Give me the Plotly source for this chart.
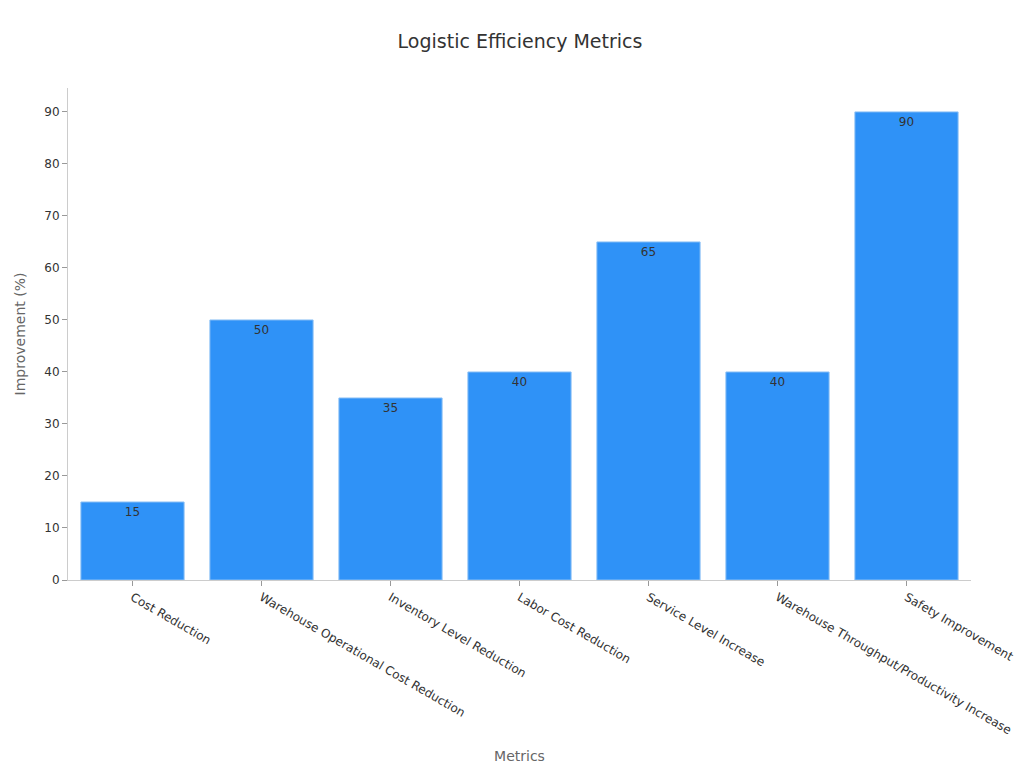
import plotly.graph_objects as go

categories = ["Cost Reduction", "Warehouse Operational Cost Reduction", "Inventory Level Reduction",
              "Labor Cost Reduction", "Service Level Increase",
              "Warehouse Throughput/Productivity Increase", "Safety Improvement"]
values = [15, 50, 35, 40, 65, 40, 90]

fig = go.Figure(go.Bar(
    x=categories, y=values, text=values, textposition="inside", insidetextanchor="end",
    textfont=dict(color="#333333", size=12),
    marker=dict(color="#2f92f7", line=dict(color="#8cc0f5", width=1)),
    width=0.8,
))
fig.update_layout(
    width=1024, height=768,
    title=dict(text="Logistic Efficiency Metrics", x=0.5, y=0.957, yanchor="middle",
               font=dict(size=19, color="#333333")),
    font=dict(family="DejaVu Sans", color="#333333"),
    plot_bgcolor="white", paper_bgcolor="white",
    margin=dict(l=60, r=61, t=80, b=196, autoexpand=False),
    showlegend=False,
)
fig.update_xaxes(title=dict(text="Metrics", font=dict(size=14, color="#666666")), tickangle=30,
                 showline=True, linecolor="#cccccc", ticks="outside", tickcolor="#999999",
                 tickfont=dict(size=12), automargin=False)
fig.update_yaxes(title=dict(text="Improvement (%)", font=dict(size=14, color="#666666")), range=[0, 94.6],
                 dtick=10, showgrid=False, showline=True, linecolor="#cccccc", ticks="outside",
                 tickcolor="#999999", tickfont=dict(size=12), zeroline=False, automargin=False)
fig.write_html("out.html")
